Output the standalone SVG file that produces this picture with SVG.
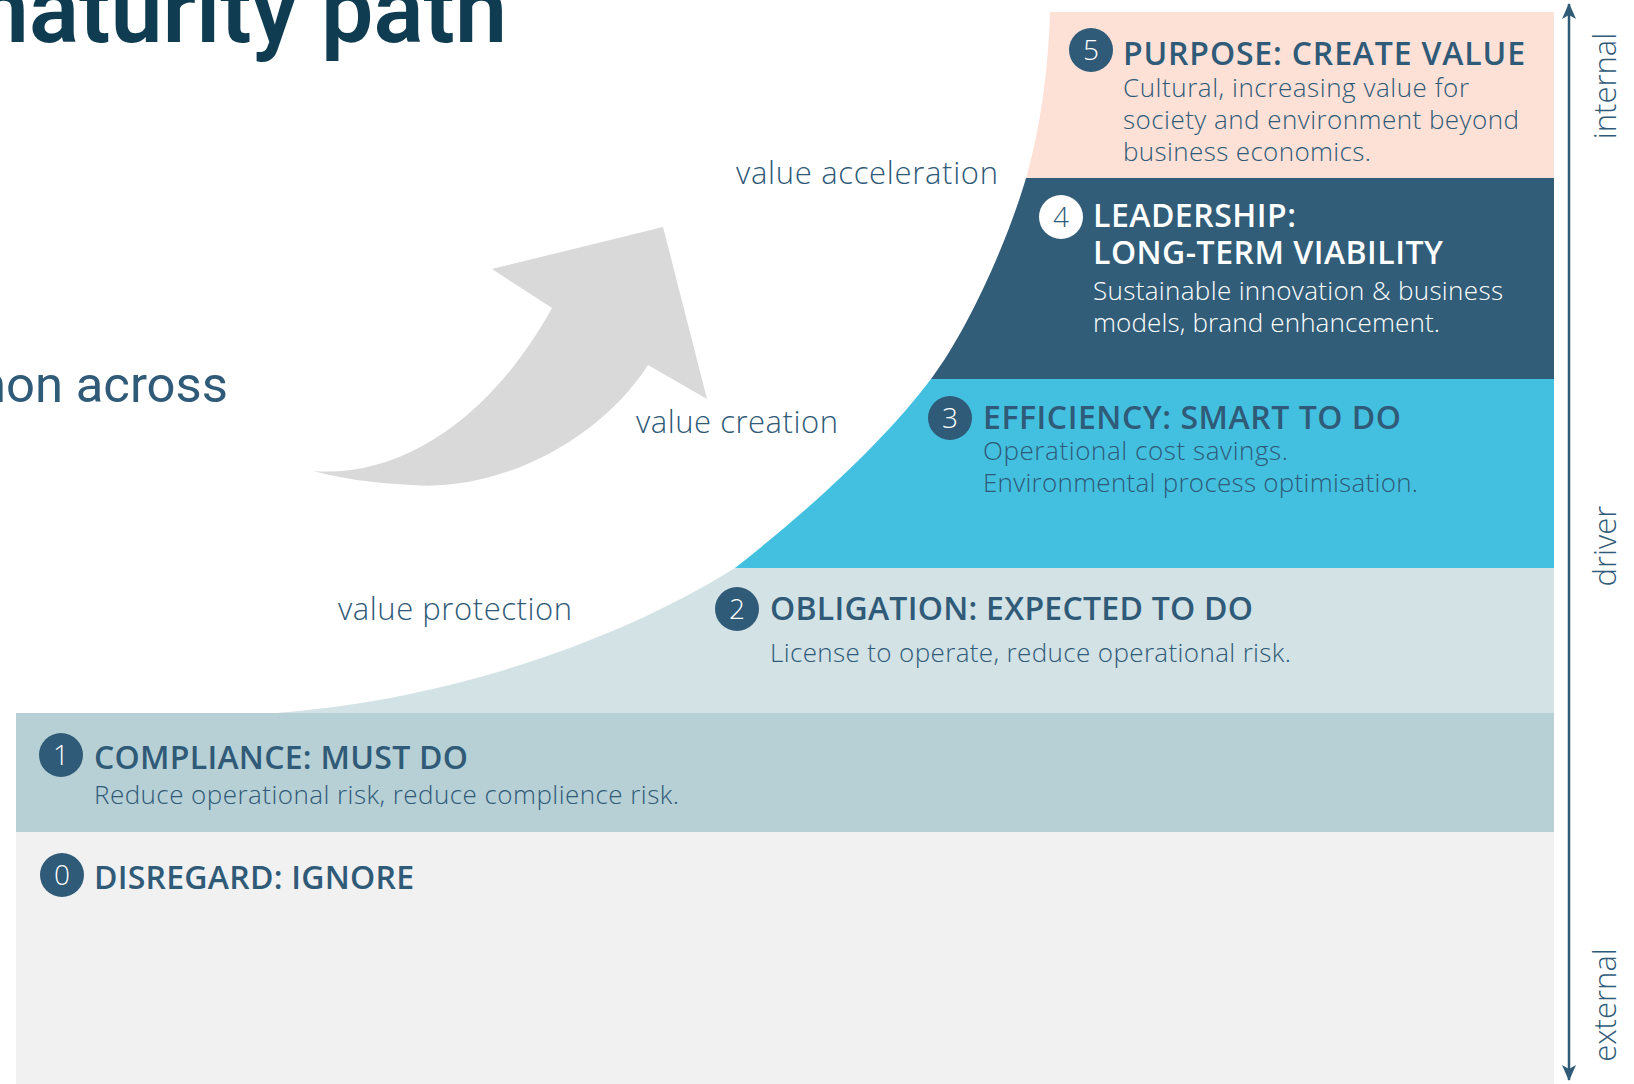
<svg xmlns="http://www.w3.org/2000/svg" width="1634" height="1084" viewBox="0 0 1634 1084">
<style>
  .hd { font-family: "Open Sans", "Liberation Sans", sans-serif; font-weight: 600; font-size: 32px; fill: #2F5A78; }
  .bd { font-family: "Open Sans", "Liberation Sans", sans-serif; font-weight: 300; font-size: 26px; fill: #2F5A78; }
  .lbl { font-family: "Open Sans", "Liberation Sans", sans-serif; font-weight: 300; font-size: 31px; fill: #2F5A78; }
  .ax { font-family: "Open Sans", "Liberation Sans", sans-serif; font-weight: 300; font-size: 31px; fill: #2F5A78; }
  .w { fill: #FFFFFF; }
  .num { font-family: "Open Sans", "Liberation Sans", sans-serif; font-weight: 300; font-size: 28px; text-anchor: middle; }
  .dot { fill: #2F5A78; }
</style>
<defs>
  <clipPath id="curveClip">
    <path d="M 276 713 C 450 700, 620 640, 735 568 C 815 505, 885 440, 931 379 C 968 330, 1008 240, 1026 178 C 1044 116, 1049 50, 1050 12 L 1560 12 L 1560 713 Z"/>
  </clipPath>
  <marker id="axHead" viewBox="0 0 16 14" markerWidth="16" markerHeight="14" refX="15" refY="7" orient="auto-start-reverse" markerUnits="userSpaceOnUse">
    <path d="M0,0 L16,7 L0,14 L4,7 Z" fill="#2F5A78"/>
  </marker>
</defs>
<rect x="0" y="0" width="1634" height="1084" fill="#FFFFFF"/>

<!-- title and subtitle (clipped by canvas edge) -->
<text x="-52" y="42" font-family="Roboto, 'Liberation Sans', sans-serif" font-weight="600" font-size="94" fill="#103C52" textLength="559" lengthAdjust="spacingAndGlyphs">maturity path</text>
<text x="-22" y="402" font-family="Roboto, 'Liberation Sans', sans-serif" font-weight="400" font-size="50" fill="#2F5A78" textLength="250" lengthAdjust="spacingAndGlyphs">non across</text>

<!-- bands -->
<g id="band0">
  <rect x="16" y="832" width="1538" height="252" fill="#F1F1F1"/>
  <circle class="dot" cx="62" cy="875" r="22"/>
  <text class="num w" x="62" y="885">0</text>
  <text class="hd" x="94" y="889" textLength="320">DISREGARD: IGNORE</text>
</g>
<g id="band1">
  <rect x="16" y="713" width="1538" height="119" fill="#B7D0D5"/>
  <circle class="dot" cx="61" cy="755" r="22"/>
  <text class="num w" x="61" y="765">1</text>
  <text class="hd" x="94" y="769" textLength="374">COMPLIANCE: MUST DO</text>
  <text class="bd" x="94" y="804" textLength="585">Reduce operational risk, reduce complience risk.</text>
</g>
<g id="band2">
  <rect x="0" y="568" width="1554" height="145" fill="#D3E2E5" clip-path="url(#curveClip)"/>
  <circle class="dot" cx="737" cy="609" r="22"/>
  <text class="num w" x="737" y="619">2</text>
  <text class="hd" x="770" y="620" textLength="483">OBLIGATION: EXPECTED TO DO</text>
  <text class="bd" x="770" y="662" textLength="521">License to operate, reduce operational risk.</text>
</g>
<g id="band3">
  <rect x="0" y="379" width="1554" height="189" fill="#43C0DF" clip-path="url(#curveClip)"/>
  <circle class="dot" cx="950" cy="418" r="22"/>
  <text class="num w" x="950" y="428">3</text>
  <text class="hd" x="983" y="429" textLength="418">EFFICIENCY: SMART TO DO</text>
  <text class="bd" x="983" y="460" textLength="305">Operational cost savings.</text>
  <text class="bd" x="983" y="492" textLength="435">Environmental process optimisation.</text>
</g>
<g id="band4">
  <rect x="0" y="178" width="1554" height="201" fill="#315D79" clip-path="url(#curveClip)"/>
  <circle cx="1061" cy="217" r="22" fill="#FFFFFF"/>
  <text class="num" x="1061" y="227" fill="#2F5A78">4</text>
  <text class="hd w" x="1093" y="227" textLength="203">LEADERSHIP:</text>
  <text class="hd w" x="1093" y="264" textLength="350">LONG-TERM VIABILITY</text>
  <text class="bd w" x="1093" y="300" textLength="410">Sustainable innovation &amp; business</text>
  <text class="bd w" x="1093" y="332" textLength="347">models, brand enhancement.</text>
</g>
<g id="band5">
  <rect x="0" y="12" width="1554" height="166" fill="#FDE1D7" clip-path="url(#curveClip)"/>
  <circle class="dot" cx="1091" cy="50" r="22"/>
  <text class="num w" x="1091" y="60">5</text>
  <text class="hd" x="1123" y="65" textLength="402">PURPOSE: CREATE VALUE</text>
  <text class="bd" x="1123" y="97" textLength="346">Cultural, increasing value for</text>
  <text class="bd" x="1123" y="129" textLength="396">society and environment beyond</text>
  <text class="bd" x="1123" y="161" textLength="248">business economics.</text>
</g>

<!-- curved grey arrow -->
<g id="growth-arrow">
  <path d="M 313 471 C 400 478, 490 420, 552 308 L 492 269 L 663 227 L 707 399 L 648 365 C 600 440, 500 492, 412 485 C 370 483, 340 478, 313 471 Z" fill="#D9D9D9"/>
</g>

<!-- value labels -->
<g id="labels">
  <text class="lbl" x="736" y="184" textLength="262">value acceleration</text>
  <text class="lbl" x="636" y="433" textLength="202">value creation</text>
  <text class="lbl" x="338" y="620" textLength="234">value protection</text>
</g>

<!-- driver axis -->
<g id="connectors">
  <line x1="1569" y1="4" x2="1569" y2="1080" stroke="#2F5A78" stroke-width="2.5" marker-start="url(#axHead)" marker-end="url(#axHead)"/>
</g>
<g id="axis-labels">
  <text class="ax" transform="translate(1616,86) rotate(-90)" text-anchor="middle">internal</text>
  <text class="ax" transform="translate(1616,546) rotate(-90)" text-anchor="middle">driver</text>
  <text class="ax" transform="translate(1616,1005) rotate(-90)" text-anchor="middle">external</text>
</g>
</svg>
